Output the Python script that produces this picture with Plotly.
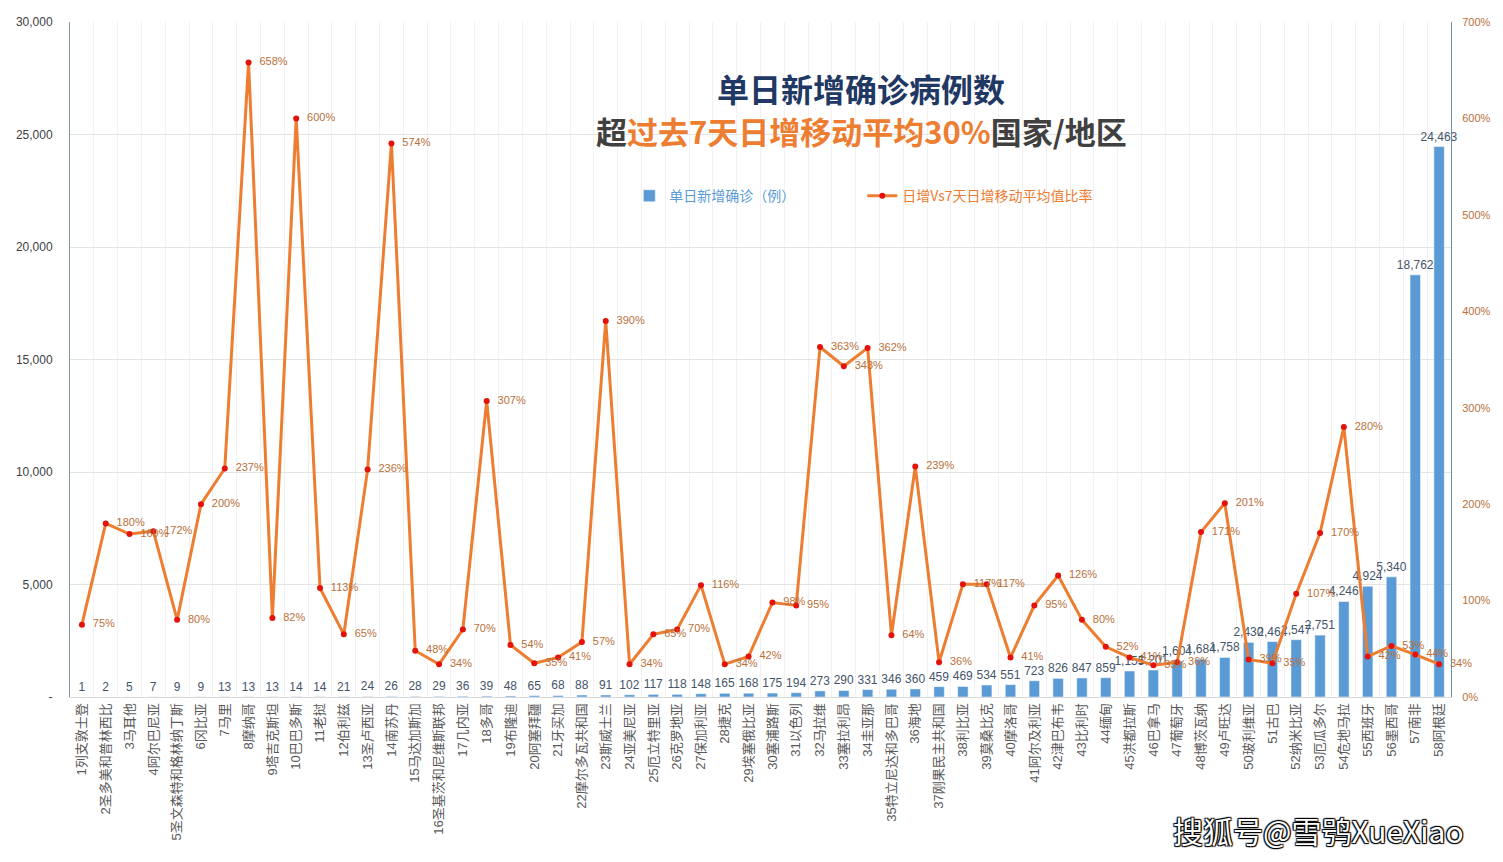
import plotly.graph_objects as go

countries = [
    '1列支敦士登', '2圣多美和普林西比', '3马耳他', '4阿尔巴尼亚', '5圣文森特和格林纳丁斯',
    '6冈比亚', '7马里', '8摩纳哥', '9塔吉克斯坦', '10巴巴多斯', '11老挝', '12伯利兹',
    '13圣卢西亚', '14南苏丹', '15马达加斯加', '16圣基茨和尼维斯联邦', '17几内亚', '18多哥',
    '19布隆迪', '20阿塞拜疆', '21牙买加', '22摩尔多瓦共和国', '23斯威士兰', '24亚美尼亚',
    '25厄立特里亚', '26克罗地亚', '27保加利亚', '28捷克', '29埃塞俄比亚', '30塞浦路斯',
    '31以色列', '32马拉维', '33塞拉利昂', '34圭亚那', '35特立尼达和多巴哥', '36海地',
    '37刚果民主共和国', '38利比亚', '39莫桑比克', '40摩洛哥', '41阿尔及利亚', '42津巴布韦',
    '43比利时', '44缅甸', '45洪都拉斯', '46巴拿马', '47葡萄牙', '48博茨瓦纳', '49卢旺达',
    '50玻利维亚', '51古巴', '52纳米比亚', '53厄瓜多尔', '54危地马拉', '55西班牙', '56墨西哥',
    '57南非', '58阿根廷',
]

new_cases = [
    1, 2, 5, 7, 9, 9, 13, 13, 13, 14, 14, 21, 24, 26, 28, 29, 36, 39, 48, 65,
    68, 88, 91, 102, 117, 118, 148, 165, 168, 175, 194, 273, 290, 331, 346, 360,
    459, 469, 534, 551, 723, 826, 847, 859, 1155, 1201, 1604, 1684, 1758, 2430,
    2464, 2547, 2751, 4246, 4924, 5340, 18762, 24463,
]

# ratio of daily new cases vs 7-day moving average (%)
ratio_pct = [
    75, 180, 169, 172, 80, 200, 237, 658, 82, 600, 113, 65, 236, 574, 48, 34,
    70, 307, 54, 35, 41, 57, 390, 34, 65, 70, 116, 34, 42, 98, 95, 363, 343,
    362, 64, 239, 36, 117, 117, 41, 95, 126, 80, 52, 41, 33, 36, 171, 201, 39,
    35, 107, 170, 280, 42, 53, 44, 34,
]

left_ticks = [0, 5000, 10000, 15000, 20000, 25000, 30000]
left_ticktext = ['-', '5,000', '10,000', '15,000', '20,000', '25,000', '30,000']

font_cn = 'Liberation Sans, Noto Sans CJK SC, sans-serif'

fig = go.Figure()

fig.add_trace(go.Bar(
    x=countries,
    y=new_cases,
    name="<span style='color:#5b9bd5'>单日新增确诊（例）</span>",
    marker=dict(color='#5b9bd5'),
    text=[f'{v:,}' for v in new_cases],
    textposition='outside',
    textfont=dict(size=12, color='#44546a', family=font_cn),
    constraintext='none',
    cliponaxis=False,
))

fig.add_trace(go.Scatter(
    x=countries,
    y=[r / 100 for r in ratio_pct],
    yaxis='y2',
    mode='lines+markers+text',
    name="<span style='color:#ed7d31'>日增Vs7天日增移动平均值比率</span>",
    line=dict(color='#ed7d31', width=3),
    marker=dict(color='#e3120b', size=6),
    text=[f'\u00a0\u00a0{r}%' for r in ratio_pct],
    textposition='middle right',
    textfont=dict(size=11, color='#b8703a', family=font_cn),
    cliponaxis=False,
))

fig.add_annotation(
    x=0.573, y=0.902, xref='paper', yref='paper', showarrow=False,
    xanchor='center', yanchor='middle',
    text='<b>单日新增确诊病例数</b>',
    font=dict(size=32, color='#1f3864', family='Noto Sans CJK SC'),
)
fig.add_annotation(
    x=0.573, y=0.84, xref='paper', yref='paper', showarrow=False,
    xanchor='center', yanchor='middle',
    text=("<b><span style='color:#404040'>超</span>"
          "<span style='color:#ed7d31'>过去7天日增移动平均30%</span>"
          "<span style='color:#404040'>国家/地区</span></b>"),
    font=dict(size=31, family='Noto Sans CJK SC'),
)
fig.add_annotation(
    x=1.011, y=-0.197, xref='paper', yref='paper', showarrow=False,
    xanchor='right', yanchor='middle',
    text='搜狐号@雪鸮XueXiao',
    font=dict(size=30, color='white', family='Noto Sans CJK SC',
              shadow='1px 1px 1px #000, -1px -1px 1px #000, 1px -1px 1px #000, -1px 1px 1px #000'),
)

# page body has an 8px margin, so the figure is sized to fit inside it
fig.update_layout(
    width=1487,
    height=846,
    template='simple_white',
    plot_bgcolor='white',
    paper_bgcolor='white',
    margin=dict(l=62, r=44, t=14, b=157),
    font=dict(family=font_cn, size=12, color='#595959'),
    bargap=0.56,
    showlegend=True,
    legend=dict(
        orientation='h', x=0.405, y=0.742, xanchor='left', yanchor='middle',
        font=dict(size=14, family='Noto Sans CJK SC'),
        entrywidth=188, bgcolor='rgba(0,0,0,0)',
    ),
    xaxis=dict(
        type='category',
        range=[-0.5, len(countries) - 0.5],
        tickangle=-90,
        tickfont=dict(size=13, color='#595959', family=font_cn),
        showline=True, linecolor='#d9d9d9',
        ticks='', showgrid=True, gridcolor='#f2f2f2', tickson='boundaries',
        automargin=False,
    ),
    yaxis=dict(
        range=[0, 30000],
        tickvals=left_ticks, ticktext=left_ticktext,
        tickfont=dict(size=12, color='#404040'),
        showline=True, linecolor='#8497a0', ticks='',
        showgrid=True, gridcolor='#e3e3e3', zeroline=False,
        ticklabelstandoff=14,
        automargin=False,
    ),
    yaxis2=dict(
        overlaying='y', side='right',
        range=[0, 7], dtick=1, tickformat='.0%',
        tickfont=dict(size=11, color='#b8703a'),
        showline=True, linecolor='#6f8fa8', ticks='',
        showgrid=False, zeroline=False,
        ticklabelstandoff=8,
        automargin=False,
    ),
)

fig.write_html('out.html')
